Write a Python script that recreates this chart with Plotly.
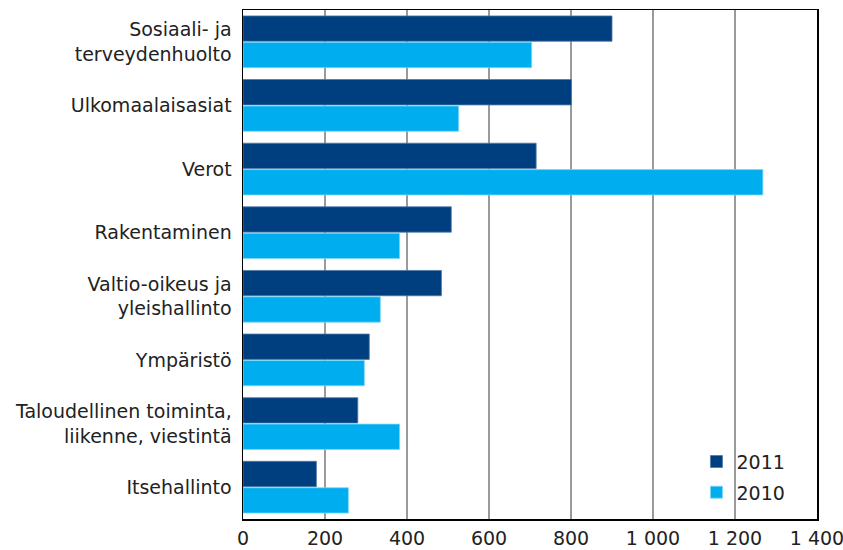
import plotly.graph_objects as go

categories = [
    "Sosiaali- ja<br>terveydenhuolto",
    "Ulkomaalaisasiat",
    "Verot",
    "Rakentaminen",
    "Valtio-oikeus ja<br>yleishallinto",
    "Ympäristö",
    "Taloudellinen toiminta,<br>liikenne, viestintä",
    "Itsehallinto",
]
values_2011 = [900, 801, 715, 508, 484, 308, 280, 179]
values_2010 = [704, 526, 1268, 382, 335, 296, 382, 257]
tick_vals = [0, 200, 400, 600, 800, 1000, 1200, 1400]
tick_text = ["0", "200", "400", "600", "800", "1 000", "1 200", "1 400"]

FONT = "DejaVu Sans"

fig = go.Figure()
fig.add_trace(go.Bar(
    y=categories, x=values_2011, name="2011", orientation="h",
    marker=dict(color="#003F7F", line=dict(color="#4f7aa8", width=0.8)),
    legendgroup="a",
))
fig.add_trace(go.Bar(
    y=categories, x=values_2010, name="2010", orientation="h",
    marker=dict(color="#00AEEF", line=dict(color="#7fd6f7", width=0.8)),
    legendgroup="b",
))

fig.update_layout(
    width=843, height=550,
    margin=dict(l=243, r=26, t=10, b=31, autoexpand=False),
    paper_bgcolor="white", plot_bgcolor="white",
    barmode="group", bargap=0.17, bargroupgap=0.04,
    font=dict(family=FONT, size=19, color="#222222"),
    showlegend=True,
    legend=dict(
        x=0.79, y=0.15, xanchor="left", yanchor="top",
        bgcolor="rgba(0,0,0,0)", tracegroupgap=3,
        font=dict(family=FONT, size=19, color="#222222"),
    ),
    xaxis=dict(
        range=[0, 1400], tickvals=tick_vals, ticktext=tick_text,
        showgrid=True, gridcolor="#9a9a9a", gridwidth=1.5,
        showline=True, linecolor="black", linewidth=1.5, mirror=True,
        ticks="outside", ticklen=2, tickcolor="rgba(0,0,0,0)",
        zeroline=False, fixedrange=True, automargin=False,
        ticklabeloverflow="allow",
    ),
    yaxis=dict(
        autorange="reversed", type="category",
        showline=True, linecolor="black", linewidth=1.5, mirror=True,
        ticks="outside", ticklen=6, tickcolor="rgba(0,0,0,0)",
        showgrid=False, fixedrange=True, automargin=False,
        ticklabeloverflow="allow",
    ),
)

fig.write_html(
    "out.html",
    config={"displayModeBar": False, "staticPlot": True},
    post_script="document.body.style.margin='0';document.body.style.padding='0';",
)
